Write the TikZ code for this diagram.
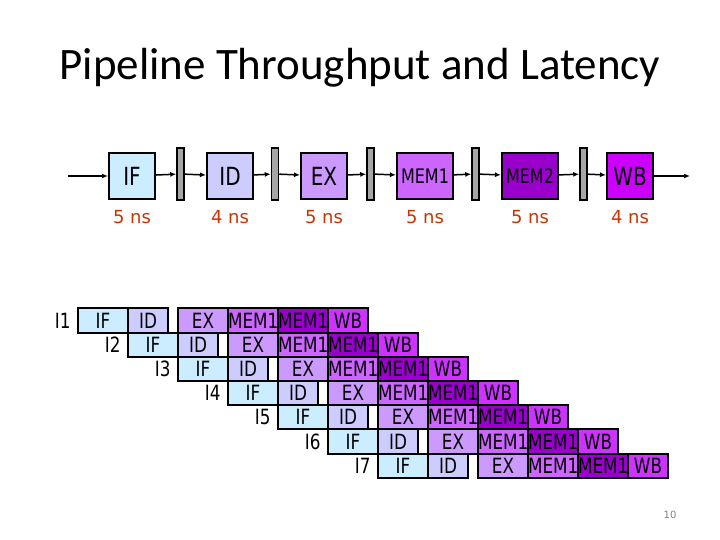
\documentclass[tikz,border=0pt]{standalone}
\usepackage{fontspec}
\setmainfont{DejaVu Sans}
\newfontfamily\condfont[FakeStretch=0.8]{DejaVu Sans}
\newfontfamily\titlefont{Carlito}
\usetikzlibrary{arrows.meta}
\definecolor{cIF}{HTML}{CCECFF}
\definecolor{cID}{HTML}{CCCCFF}
\definecolor{cEX}{HTML}{CC99FF}
\definecolor{cMA}{HTML}{CC66FF}
\definecolor{cMB}{HTML}{9900CC}
\definecolor{cWB}{HTML}{CC00FF}
\definecolor{cWBt}{HTML}{CC33FF}
\definecolor{ns}{HTML}{CC3300}
\tikzset{
 stage/.style={draw=black,line width=2pt,minimum width=46pt,minimum height=46pt,inner sep=0pt,font=\condfont\fontsize{25}{25}\selectfont},
 reg/.style={draw=black,line width=1.5pt,fill=gray!70,minimum width=7pt,minimum height=52pt,inner sep=0pt},
 lat/.style={text=ns,font=\fontsize{18}{18}\selectfont},
 cell/.style={draw=black,line width=2pt,minimum height=24.2pt,inner sep=0pt,anchor=west,font=\condfont\fontsize{21}{21}\selectfont},
 wire/.style={line width=1.5pt,-{Latex[length=6pt,width=5pt]}},
 rlab/.style={anchor=east,font=\condfont\fontsize{21}{21}\selectfont}
}
\begin{document}
\begin{tikzpicture}[x=1pt,y=-1pt]
\useasboundingbox (0,0) rectangle (720,540);
\node[font=\titlefont\fontsize{45}{45}\selectfont] (title) at (360,68) {Pipeline Throughput and Latency};
% top pipeline
\coordinate (start) at (68,176);
\coordinate (stop) at (690,176);
\node[stage,fill=cIF] (sIF) at (132,176) {IF};
\node[reg] (r1) at (180.5,174) {};
\node[stage,fill=cID] (sID) at (230,176) {ID};
\node[reg] (r2) at (275,174) {};
\node[stage,fill=cEX] (sEX) at (324,176) {EX};
\node[reg] (r3) at (370.5,174) {};
\node[stage,fill=cMA,minimum width=56pt,font=\condfont\fontsize{20}{20}\selectfont] (sM1) at (425,176) {MEM1};
\node[reg] (r4) at (475.5,174) {};
\node[stage,fill=cMB,minimum width=56pt,font=\condfont\fontsize{20}{20}\selectfont] (sM2) at (530,176) {MEM2};
\node[reg] (r5) at (583.5,174) {};
\node[stage,fill=cWB] (sWB) at (630,176) {WB};
\draw[wire] (start) -- (sIF);
\draw[wire] (sIF) -- (r1);
\draw[wire] (r1) -- (sID);
\draw[wire] (sID) -- (r2);
\draw[wire] (r2) -- (sEX);
\draw[wire] (sEX) -- (r3);
\draw[wire] (r3) -- (sM1);
\draw[wire] (sM1) -- (r4);
\draw[wire] (r4) -- (sM2);
\draw[wire] (sM2) -- (r5);
\draw[wire] (r5) -- (sWB);
\draw[wire] (sWB) -- (stop);
\node[lat] (l1) at (132,217) {5 ns};
\node[lat] (l2) at (230,217) {4 ns};
\node[lat] (l3) at (324,217) {5 ns};
\node[lat] (l4) at (425,217) {5 ns};
\node[lat] (l5) at (530,217) {5 ns};
\node[lat] (l6) at (630,217) {4 ns};
% table
\foreach \r in {0,...,6}{
 \pgfmathsetmacro{\xo}{77+50*\r}
 \pgfmathsetmacro{\yo}{320.5+24.2*\r}
 \pgfmathtruncatemacro{\n}{\r+1}
 \node[rlab] (lab\n) at (\xo-3,\yo) {I\n};
 \node[cell,fill=cIF,minimum width=50pt] (if\n) at (\xo,\yo) {IF};
 \node[cell,fill=cID,minimum width=40pt] (id\n) at (\xo+50,\yo) {ID};
 \node[cell,fill=cEX,minimum width=50pt] (ex\n) at (\xo+100,\yo) {EX};
 \node[cell,fill=cMA,minimum width=50pt] (ma\n) at (\xo+150,\yo) {MEM1};
 \node[cell,fill=cMB,minimum width=50pt] (mb\n) at (\xo+200,\yo) {MEM1};
 \node[cell,fill=cWBt,minimum width=40pt] (wb\n) at (\xo+250,\yo) {WB};
}
\node[text=gray,font=\fontsize{10}{10}\selectfont] (pg) at (670,515) {10};
\end{tikzpicture}
\end{document}
